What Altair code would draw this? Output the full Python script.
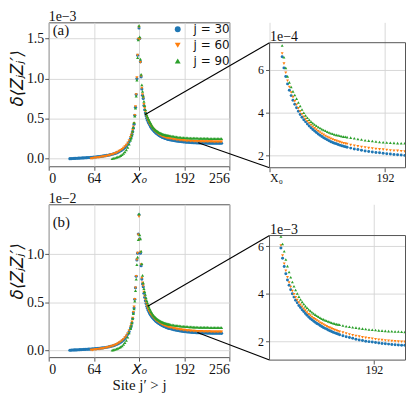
import altair as alt
import pandas as pd

# ---------------- data ----------------
SERIES = ["j = 30", "j = 60", "j = 90"]
J_START = [30, 60, 90]
COLORS = ["#1f77b4", "#ff7f0e", "#2ca02c"]
SHAPES = ["circle", "triangle-down", "triangle-up"]
X_TICKS_MAIN = [0, 64, 128, 192, 256]

# site grids: left tail (step 2, from j to 114), near peak (116..127),
# right side (128..170 step 1), right tail (171..245 step 2)

# ---- panel (a): values in units of 1e-4 ----
A30_L = [0.0, 0.01, 0.02, 0.03, 0.04, 0.05, 0.06, 0.07, 0.08, 0.09, 0.1, 0.11, 0.12, 0.14, 0.15,
         0.17, 0.18, 0.2, 0.21, 0.23, 0.25, 0.27, 0.29, 0.31, 0.34, 0.37, 0.4, 0.43, 0.47, 0.51,
         0.55, 0.6, 0.65, 0.72, 0.79, 0.88, 0.98, 1.09, 1.22, 1.38, 1.57, 1.8, 2.1]
A30_P = [2.5, 2.75, 3.05, 3.4, 3.8, 4.3, 5.4, 6.4, 8.0, 10.0, 12.9, 14.9]
A30_R1 = [16.3, 15.0, 12.1, 10.2, 8.7, 7.9, 7.5, 6.62, 6.1, 5.7, 5.35, 5.05, 4.8, 4.58, 4.4, 4.23,
          4.07, 3.92, 3.79, 3.67, 3.57, 3.47, 3.38, 3.29, 3.21, 3.14, 3.07, 3.0, 2.94, 2.88, 2.83,
          2.78, 2.73, 2.68, 2.64, 2.6, 2.57, 2.54, 2.51, 2.48, 2.45, 2.43, 2.4]
A30_R2 = [2.38, 2.34, 2.3, 2.27, 2.24, 2.21, 2.18, 2.16, 2.14, 2.12, 2.1, 2.08, 2.06, 2.045, 2.03,
          2.015, 2.0, 1.99, 1.98, 1.975, 1.97, 1.965, 1.96, 1.955, 1.95, 1.945, 1.94, 1.94, 1.935,
          1.93, 1.93, 1.925, 1.925, 1.92, 1.92, 1.92, 1.915, 1.915]

A60_L = [0.0, 0.03, 0.06, 0.09, 0.11, 0.13, 0.16, 0.19, 0.22, 0.25, 0.28, 0.32, 0.36, 0.41, 0.46,
         0.52, 0.58, 0.65, 0.73, 0.82, 0.93, 1.04, 1.17, 1.32, 1.5, 1.7, 1.95, 2.25]
A60_P = [2.65, 2.9, 3.2, 3.55, 3.95, 4.4, 5.4, 6.5, 8.0, 10.1, 12.9, 14.9]
A60_R1 = [16.4, 14.9, 12.0, 10.3, 8.8, 8.0, 7.6, 6.77, 6.3, 5.87, 5.5, 5.2, 4.95, 4.73, 4.54, 4.37,
          4.21, 4.06, 3.93, 3.81, 3.7, 3.6, 3.51, 3.42, 3.34, 3.27, 3.2, 3.13, 3.07, 3.01, 2.96,
          2.91, 2.86, 2.82, 2.78, 2.74, 2.71, 2.68, 2.65, 2.62, 2.59, 2.57, 2.55]
A60_R2 = [2.53, 2.49, 2.45, 2.42, 2.39, 2.37, 2.34, 2.32, 2.3, 2.28, 2.27, 2.25, 2.23, 2.22, 2.21,
          2.19, 2.18, 2.17, 2.16, 2.155, 2.15, 2.145, 2.14, 2.135, 2.13, 2.125, 2.12, 2.12, 2.115,
          2.11, 2.11, 2.105, 2.105, 2.1, 2.1, 2.1, 2.095, 2.095]

A90_L = [0.0, 0.05, 0.1, 0.16, 0.22, 0.29, 0.38, 0.5, 0.65, 0.85, 1.1, 1.4, 1.8]
A90_P = [2.3, 2.6, 2.95, 3.4, 3.9, 4.5, 5.3, 6.3, 7.8, 9.8, 12.6, 14.8]
A90_R1 = [16.6, 15.2, 12.4, 10.5, 9.2, 8.4, 7.8, 7.15, 6.6, 6.1, 5.7, 5.42, 5.2, 5.0, 4.83, 4.66,
          4.48, 4.31, 4.15, 4.0, 3.87, 3.76, 3.67, 3.58, 3.51, 3.45, 3.39, 3.33, 3.28, 3.23, 3.19,
          3.15, 3.11, 3.07, 3.04, 3.01, 2.98, 2.96, 2.94, 2.92, 2.9, 2.88, 2.87]
A90_R2 = [2.855, 2.83, 2.8, 2.77, 2.74, 2.71, 2.69, 2.67, 2.65, 2.63, 2.615, 2.605, 2.595, 2.585,
          2.575, 2.57, 2.565, 2.56, 2.555, 2.55, 2.545, 2.54, 2.535, 2.53, 2.525, 2.52, 2.52,
          2.515, 2.51, 2.51, 2.505, 2.505, 2.5, 2.5, 2.5, 2.495, 2.495, 2.49]

# ---- panel (b): values in units of 1e-3 ----
B30_L = [0.0, 0.01, 0.02, 0.03, 0.035, 0.04, 0.05, 0.06, 0.065, 0.07, 0.08, 0.09, 0.1, 0.11, 0.12,
         0.13, 0.14, 0.15, 0.16, 0.17, 0.19, 0.2, 0.22, 0.24, 0.26, 0.28, 0.31, 0.34, 0.37, 0.4,
         0.44, 0.48, 0.53, 0.59, 0.66, 0.74, 0.83, 0.94, 1.07, 1.23, 1.42, 1.65, 1.95]
B30_P = [2.3, 2.55, 2.85, 3.3, 3.9, 4.4, 5.3, 6.5, 7.7, 9.4, 10.1, 12.1]
B30_R1 = [14.1, 11.6, 10.1, 8.8, 7.4, 6.9, 6.6, 5.93, 5.5, 5.15, 4.85, 4.58, 4.36, 4.17, 4.0, 3.86,
          3.73, 3.62, 3.51, 3.42, 3.33, 3.25, 3.17, 3.09, 3.02, 2.96, 2.9, 2.85, 2.8, 2.75, 2.71,
          2.66, 2.62, 2.58, 2.54, 2.51, 2.47, 2.44, 2.41, 2.38, 2.35, 2.32, 2.3]
B30_R2 = [2.27, 2.23, 2.19, 2.15, 2.12, 2.08, 2.05, 2.03, 2.0, 1.98, 1.96, 1.94, 1.92, 1.905, 1.89,
          1.875, 1.86, 1.85, 1.84, 1.83, 1.825, 1.815, 1.81, 1.805, 1.8, 1.795, 1.79, 1.785, 1.78,
          1.78, 1.775, 1.77, 1.77, 1.765, 1.765, 1.76, 1.76, 1.755]

B60_L = [0.0, 0.02, 0.04, 0.06, 0.08, 0.1, 0.12, 0.14, 0.17, 0.2, 0.23, 0.26, 0.3, 0.34, 0.38,
         0.43, 0.48, 0.54, 0.61, 0.69, 0.78, 0.88, 1.0, 1.14, 1.31, 1.5, 1.74, 2.04]
B60_P = [2.4, 2.65, 2.95, 3.35, 3.95, 4.5, 5.3, 6.5, 7.7, 9.4, 10.1, 12.0]
B60_R1 = [13.9, 11.5, 10.2, 8.9, 7.5, 7.0, 6.7, 6.04, 5.62, 5.27, 4.97, 4.7, 4.48, 4.29, 4.12,
          3.98, 3.85, 3.74, 3.63, 3.54, 3.45, 3.37, 3.29, 3.21, 3.14, 3.08, 3.02, 2.97, 2.92,
          2.87, 2.83, 2.78, 2.74, 2.7, 2.66, 2.63, 2.59, 2.56, 2.53, 2.5, 2.47, 2.45, 2.42]
B60_R2 = [2.4, 2.36, 2.32, 2.28, 2.25, 2.22, 2.19, 2.16, 2.14, 2.12, 2.1, 2.08, 2.06, 2.045, 2.03,
          2.015, 2.0, 1.99, 1.98, 1.975, 1.97, 1.96, 1.955, 1.95, 1.945, 1.94, 1.935, 1.93, 1.93,
          1.925, 1.92, 1.92, 1.915, 1.915, 1.91, 1.91, 1.905, 1.905]

B90_L = [0.0, 0.04, 0.08, 0.13, 0.19, 0.26, 0.35, 0.46, 0.6, 0.78, 1.02, 1.35, 1.8]
B90_P = [2.25, 2.5, 2.85, 3.3, 3.8, 4.3, 5.1, 6.2, 7.4, 8.9, 9.7, 11.5]
B90_R1 = [14.2, 12.0, 11.6, 10.3, 9.0, 7.8, 7.0, 6.42, 6.1, 5.8, 5.45, 5.17, 4.92, 4.7, 4.5, 4.32,
          4.16, 4.01, 3.88, 3.76, 3.66, 3.57, 3.48, 3.41, 3.34, 3.28, 3.22, 3.17, 3.12, 3.07, 3.03,
          2.99, 2.95, 2.92, 2.89, 2.86, 2.83, 2.81, 2.78, 2.76, 2.74, 2.72, 2.71]
B90_R2 = [2.69, 2.66, 2.63, 2.61, 2.59, 2.57, 2.55, 2.53, 2.51, 2.495, 2.48, 2.47, 2.455, 2.445,
          2.435, 2.425, 2.418, 2.41, 2.405, 2.4, 2.39, 2.385, 2.38, 2.378, 2.375, 2.372, 2.37,
          2.368, 2.365, 2.362, 2.36, 2.358, 2.356, 2.354, 2.352, 2.35, 2.35, 2.348]

PANEL_A = [(A30_L, A30_P, A30_R1, A30_R2), (A60_L, A60_P, A60_R1, A60_R2), (A90_L, A90_P, A90_R1, A90_R2)]
PANEL_B = [(B30_L, B30_P, B30_R1, B30_R2), (B60_L, B60_P, B60_R1, B60_R2), (B90_L, B90_P, B90_R1, B90_R2)]

# zoom-connector start points (site, value) on the main panels
CONN_A = [(136.2, 5.48), (211.9, 1.97)]
CONN_B = [(140.4, 4.58), (210.7, 1.85)]

# ---------------- layout ----------------
MAIN_W = 182
MAIN_H_A, MAIN_H_B = 145, 154
INSET_W = 137
INSET_TOP_A, INSET_VIEW_H_A = 20.5, 146.5
INSET_TOP_B, INSET_VIEW_H_B = 31.5, 157
COL_GAP, ROW_GAP = 40.5, 36.3

A_Y = [-0.95, 17.0]
B_Y = [-0.72, 15.19]
A_YTICKS = [0, 5, 10, 15]
B_YTICKS = [0, 5, 10]
IA_X, IA_Y = [128, 203.4], [1.42, 7.28]
IB_X, IB_Y = [128, 211.4], [1.20, 6.46]

SERIF = "Liberation Serif"
SANS = "DejaVu Sans"
INK = "#111111"
FRAME = "#555555"


def sites(j):
    return (list(range(j, 115, 2)) + list(range(116, 128))
            + list(range(128, 171)) + list(range(171, 246, 2)))


def build(panel):
    rows = []
    for name, j, parts in zip(SERIES, J_START, panel):
        vals = parts[0] + parts[1] + parts[2] + parts[3]
        s = sites(j)
        assert len(s) == len(vals), (name, len(s), len(vals))
        rows += [{"site": a, "v": b, "series": name} for a, b in zip(s, vals)]
    return pd.DataFrame(rows)


DF_A = build(PANEL_A)
DF_B = build(PANEL_B)

is_x0 = "datum.value == 128"


def enc_color(show_legend):
    if show_legend:
        lg = alt.Legend(orient="none", legendX=124, legendY=1, title=None, labelFont=SANS,
                        labelFontSize=12, symbolSize=35, rowPadding=4, labelOffset=10, padding=0,
                        symbolStrokeWidth=0, labelColor=INK)
    else:
        lg = None
    c = alt.Color("series:N", scale=alt.Scale(domain=SERIES, range=COLORS), legend=lg)
    s = alt.Shape("series:N", scale=alt.Scale(domain=SERIES, range=SHAPES), legend=lg)
    return c, s


def main_panel(df, ydom, yticks, h, tag, tag_y, exp_txt, conn, inset_top, inset_view_h,
               show_legend, xtitle, title_y):
    xs = alt.Scale(domain=[0, 256], nice=False, zero=False)
    ys = alt.Scale(domain=ydom, nice=False, zero=False)
    xkw = dict(values=X_TICKS_MAIN, labelExpr="datum.value == 128 ? 'X₀' : datum.label",
               labelFont={"condition": {"test": is_x0, "value": SANS}, "value": SERIF},
               labelFontStyle={"condition": {"test": is_x0, "value": "italic"}, "value": "normal"},
               labelFontSize=14, labelPadding=1)
    if xtitle:
        xkw.update(title=xtitle, titleFont=SERIF, titleFontSize=15, titleFontWeight="normal",
                   titlePadding=2)
    else:
        xkw.update(title=None)
    xaxis = alt.Axis(**xkw)
    yaxis = alt.Axis(values=yticks, labelExpr="format(datum.value / 10, '.1f')",
                     labelFontSize=14, labelPadding=1, title="δ⟨ZⱼZⱼ′⟩", titleFont=SANS,
                     titleFontStyle="italic", titleFontSize=17, titleFontWeight="normal",
                     titleAngle=270, titleAlign="center", titleBaseline="middle",
                     titleX=-31, titleY=title_y)
    c, s = enc_color(show_legend)
    pts = alt.Chart(df).mark_point(filled=True, size=10, opacity=1).encode(
        x=alt.X("site:Q", scale=xs, axis=xaxis),
        y=alt.Y("v:Q", scale=ys, axis=yaxis),
        color=c, shape=s)

    # connector lines towards the inset corners (inset placed right of this panel)
    x_end = (MAIN_W + COL_GAP) / MAIN_W * 256
    per_px = (ydom[1] - ydom[0]) / h
    y_top = ydom[1] - inset_top * per_px
    y_bot = ydom[1] - inset_view_h * per_px
    conn_df = pd.DataFrame({"x0": [p[0] for p in conn], "y0": [p[1] for p in conn],
                            "x1": [x_end, x_end], "y1": [y_top, y_bot]})
    rules = alt.Chart(conn_df).mark_rule(color="black", strokeWidth=1.1).encode(
        x=alt.X("x0:Q", scale=xs, axis=xaxis), y=alt.Y("y0:Q", scale=ys, axis=yaxis),
        x2="x1:Q", y2="y1:Q")

    txt = alt.Chart(pd.DataFrame({"t": [tag]})).mark_text(
        align="left", baseline="middle", font=SERIF, fontSize=15, color=INK).encode(
        x=alt.value(4), y=alt.value(tag_y), text="t:N")

    expo = alt.Chart(pd.DataFrame({"t": [exp_txt]})).mark_text(
        align="left", baseline="alphabetic", font=SERIF, fontSize=14, color=INK).encode(
        x=alt.value(0), y=alt.value(-1.5), text="t:N")

    return alt.layer(pts, rules, txt, expo).properties(width=MAIN_W, height=h)


def inset_panel(df, xdom, ydom, top, view_h, xticks, exp_txt):
    xs = alt.Scale(domain=xdom, nice=False, zero=False)
    ys = alt.Scale(domain=ydom, nice=False, zero=False, range=[view_h, top])
    xaxis = alt.Axis(values=xticks, labelExpr="datum.value == 128 ? 'X₀' : datum.label",
                     labelFontSize=12, labelPadding=1, title=None)
    yaxis = alt.Axis(values=[2, 4, 6], labelFontSize=12, title=exp_txt, titleAngle=0,
                     titleX=0, titleY=top - 2, titleAlign="left", titleBaseline="alphabetic",
                     titleFont=SERIF, titleFontSize=14, titleFontWeight="normal")
    c, s = enc_color(False)
    flt = (f"datum.v <= {ydom[1]} && datum.v >= {ydom[0]} && "
           f"datum.site >= {xdom[0]} && datum.site <= {xdom[1]}")
    pts = alt.Chart(df).transform_filter(flt).mark_point(
        filled=True, size=9, opacity=1, clip=True).encode(
        x=alt.X("site:Q", scale=xs, axis=xaxis),
        y=alt.Y("v:Q", scale=ys, axis=yaxis),
        color=c, shape=s)
    frame_df = pd.DataFrame({"x0": [xdom[0]], "x1": [xdom[1]], "y0": [ydom[0]], "y1": [ydom[1]]})
    frame = alt.Chart(frame_df).mark_rect(fill="white", fillOpacity=0, stroke=FRAME,
                                           strokeWidth=1).encode(
        x=alt.X("x0:Q", scale=xs, axis=xaxis), x2="x1:Q",
        y=alt.Y("y0:Q", scale=ys, axis=yaxis), y2="y1:Q")
    return alt.layer(pts, frame).properties(
        width=INSET_W, height=view_h, view=alt.ViewBackground(stroke="transparent"))


main_a = main_panel(DF_A, A_Y, A_YTICKS, MAIN_H_A, "(a)", 8, "1e−3", CONN_A, INSET_TOP_A,
                    INSET_VIEW_H_A, True, None, 56)
inset_a = inset_panel(DF_A, IA_X, IA_Y, INSET_TOP_A, INSET_VIEW_H_A, [128, 192], "1e−4")
main_b = main_panel(DF_B, B_Y, B_YTICKS, MAIN_H_B, "(b)", 17.5, "1e−2", CONN_B, INSET_TOP_B,
                    INSET_VIEW_H_B, False, "Site j′ > j", 67)
inset_b = inset_panel(DF_B, IB_X, IB_Y, INSET_TOP_B, INSET_VIEW_H_B, [192], "1e−3")

chart = alt.concat(
    main_a, inset_a, main_b, inset_b, columns=2, align="each", bounds="flush",
    spacing={"row": ROW_GAP, "column": COL_GAP},
    padding={"left": 0, "top": 0, "right": 0, "bottom": 0},
).resolve_scale(
    color="independent", shape="independent"
).configure_view(
    stroke=FRAME, strokeWidth=1
).configure_axis(
    grid=True, gridColor="#d4d4d4", gridWidth=0.9, domain=False, tickColor="#444444",
    tickSize=4, tickWidth=0.9, labelColor=INK, labelFont=SERIF, titleColor=INK
)

chart.save("out.html", embed_options={"renderer": "svg", "actions": False})
